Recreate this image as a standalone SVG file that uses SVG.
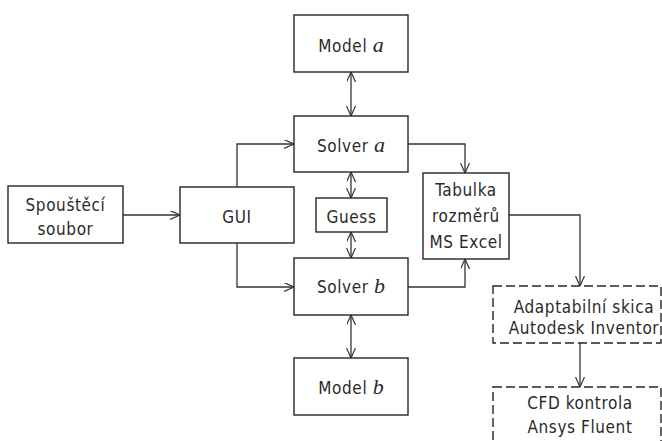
<svg xmlns="http://www.w3.org/2000/svg" width="662" height="441" viewBox="0 0 662 441">
<style>
.box{fill:#fff;stroke:#262626;stroke-width:1.4}
.dash{fill:#fff;stroke:#262626;stroke-width:1.4;stroke-dasharray:9 4}
.t{font-family:"DejaVu Sans Condensed","DejaVu Sans",sans-serif;font-stretch:condensed;font-size:17px;fill:#2a2a2a;text-anchor:middle;letter-spacing:0.6px}
.i{font-family:"Liberation Serif",serif;font-style:italic;font-size:22px;letter-spacing:0}
.c{fill:none;stroke:#333;stroke-width:1.3}
</style>
<defs>
<marker id="ah" markerUnits="userSpaceOnUse" markerWidth="12" markerHeight="10" refX="10" refY="4.5" orient="auto-start-reverse">
<path d="M0,0 L10,4.5 L0,9" fill="none" stroke="#333" stroke-width="1.2"/>
</marker>
</defs>
<g id="connectors">
<path class="c" d="M123,215 H180" marker-end="url(#ah)"/>
<path class="c" d="M237,187 V144 H294" marker-end="url(#ah)"/>
<path class="c" d="M237,243 V287 H294" marker-end="url(#ah)"/>
<path class="c" d="M351,72 V116" marker-start="url(#ah)" marker-end="url(#ah)"/>
<path class="c" d="M351,172 V198" marker-start="url(#ah)" marker-end="url(#ah)"/>
<path class="c" d="M351,232 V258" marker-start="url(#ah)" marker-end="url(#ah)"/>
<path class="c" d="M351,315 V358" marker-start="url(#ah)" marker-end="url(#ah)"/>
<path class="c" d="M408,144 H465 V173" marker-end="url(#ah)"/>
<path class="c" d="M408,287 H465 V259" marker-end="url(#ah)"/>
<path class="c" d="M509,215 H580 V286" marker-end="url(#ah)"/>
<path class="c" d="M580,343 V387" marker-end="url(#ah)"/>
</g>
<g id="spousteci">
<rect class="box" x="8" y="186" width="115" height="57"/>
<text class="t" x="65.5" y="211">Spouštěcí</text>
<text class="t" x="65.5" y="235">soubor</text>
</g>
<g id="gui">
<rect class="box" x="180" y="187" width="114" height="56"/>
<text class="t" x="237" y="223">GUI</text>
</g>
<g id="model-a">
<rect class="box" x="294" y="15" width="114" height="57"/>
<text class="t" x="351" y="52">Model <tspan class="i">a</tspan></text>
</g>
<g id="solver-a">
<rect class="box" x="294" y="116" width="114" height="56"/>
<text class="t" x="351" y="152">Solver <tspan class="i">a</tspan></text>
</g>
<g id="guess">
<rect class="box" x="316" y="198" width="71" height="34"/>
<text class="t" x="351.5" y="222.5">Guess</text>
</g>
<g id="solver-b">
<rect class="box" x="294" y="258" width="114" height="57"/>
<text class="t" x="351" y="293">Solver <tspan class="i">b</tspan></text>
</g>
<g id="model-b">
<rect class="box" x="294" y="358" width="114" height="57"/>
<text class="t" x="351" y="394">Model <tspan class="i">b</tspan></text>
</g>
<g id="tabulka">
<rect class="box" x="423" y="173" width="86" height="86"/>
<text class="t" x="466" y="196">Tabulka</text>
<text class="t" x="466" y="222">rozměrů</text>
<text class="t" x="466" y="248">MS Excel</text>
</g>
<g id="inventor">
<rect class="dash" x="493" y="286" width="168" height="57"/>
<text class="t" x="584" y="313">Adaptabilní skica</text>
<text class="t" x="584" y="334">Autodesk Inventor</text>
</g>
<g id="cfd">
<rect class="dash" x="493" y="387" width="168" height="60"/>
<text class="t" x="580" y="409">CFD kontrola</text>
<text class="t" x="580" y="433">Ansys Fluent</text>
</g>
</svg>
